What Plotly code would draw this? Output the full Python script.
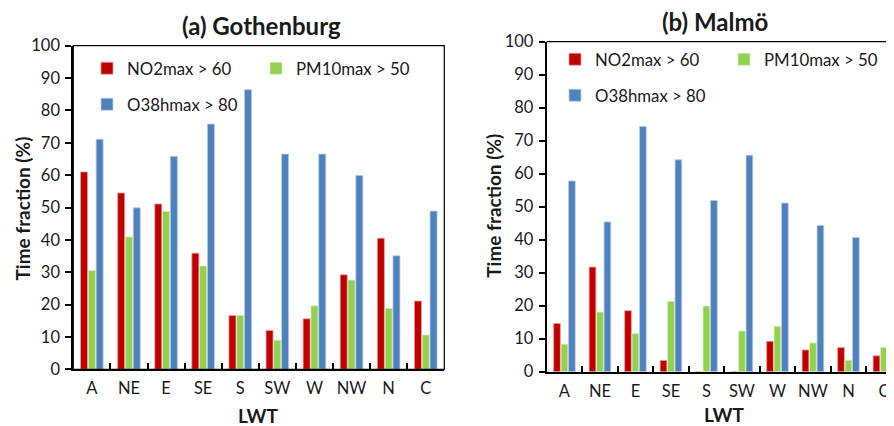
import plotly.graph_objects as go

# ---------------- data ----------------
categories = ["A", "NE", "E", "SE", "S", "SW", "W", "NW", "N", "C"]

gbg_no2 = [61.0, 54.5, 51.1, 35.9, 16.6, 12.0, 15.6, 29.2, 40.5, 21.1]
gbg_pm10 = [30.5, 40.9, 48.8, 31.9, 16.6, 9.0, 19.6, 27.6, 18.8, 10.6]
gbg_o3 = [71.1, 49.9, 65.8, 75.8, 86.4, 66.5, 66.5, 59.9, 35.1, 48.9]

mal_no2 = [14.6, 31.7, 18.5, 3.4, 0.0, 0.0, 9.2, 6.6, 7.3, 4.8]
mal_pm10 = [8.3, 18.1, 11.5, 21.3, 19.9, 12.3, 13.8, 8.7, 3.5, 7.4]
mal_o3 = [57.8, 45.4, 74.3, 64.2, 51.9, 65.6, 51.1, 44.3, 40.7, 67.5]

series_names = ["NO2max > 60", "PM10max > 50", "O38hmax > 80"]
series_colors = ["#C00000", "#92D050", "#4F81BD"]
edge_colors = ["#E8A0A0", "#D4EDB8", "#B8CDE6"]

y_ticks = list(range(0, 101, 10))

# the page body has an 8px margin, so the figure is 8px smaller and
# positions below are given in window pixels, converted to paper fractions
OFF = 8
W, H = 894 - OFF, 426 - OFF
FONT = "Lato"

def px_x(p):
    return (p - OFF) / W

def px_y(p):
    return (H - (p - OFF)) / H

fig = go.Figure()

panels = [
    ("x", "y", [gbg_no2, gbg_pm10, gbg_o3], ["legend", "legend", "legend2"]),
    ("x2", "y2", [mal_no2, mal_pm10, mal_o3], ["legend3", "legend3", "legend4"]),
]
for xa, ya, vals, legs in panels:
    for i in range(3):
        fig.add_trace(go.Bar(
            x=categories, y=vals[i], name=series_names[i],
            marker=dict(color=series_colors[i], line=dict(color=edge_colors[i], width=0.8)),
            xaxis=xa, yaxis=ya, legend=legs[i], showlegend=True,
        ))

tickfont = dict(family=FONT, size=16.5, color="#1a1a1a")
common_x = dict(type="category", tickson="boundaries", ticks="inside", ticklen=6,
                tickwidth=1.5, tickcolor="black", showline=True, linewidth=2,
                linecolor="black", showgrid=False, tickfont=tickfont, zeroline=False,
                tickangle=0, ticklabelstandoff=3, automargin=False)
common_y = dict(range=[0, 100], tickvals=y_ticks, ticks="outside", ticklen=6,
                tickwidth=1.5, tickcolor="black", showline=True, linewidth=2,
                linecolor="black", showgrid=False, tickfont=tickfont, zeroline=False,
                ticklabelstandoff=2, automargin=False)

fig.update_layout(
    width=W, height=H,
    margin=dict(l=0, r=0, t=0, b=0, autoexpand=False),
    paper_bgcolor="white", plot_bgcolor="white",
    barmode="group", bargap=0.37, bargroupgap=0.1,
    font=dict(family=FONT, color="#1a1a1a"),
    xaxis=dict(domain=[px_x(73.3), px_x(444.3)], anchor="y", range=[-0.5, 9.5], **common_x),
    yaxis=dict(domain=[px_y(369.3), px_y(45.7)], anchor="x", **common_y),
    xaxis2=dict(domain=[px_x(546.7), 1.0], anchor="y2", range=[-0.5, 9.283], **common_x),
    yaxis2=dict(domain=[px_y(371.7), px_y(41.7)], anchor="x2", **common_y),
)

leg_common = dict(orientation="h", bgcolor="rgba(0,0,0,0)", borderwidth=0,
                  font=dict(family=FONT, size=16.8, color="#1a1a1a"),
                  xanchor="left", yanchor="middle", entrywidth=124, entrywidthmode="pixels",
                  itemwidth=30)
fig.update_layout(
    legend=dict(x=px_x(87), y=px_y(68.3), **leg_common),
    legend2=dict(x=px_x(87), y=px_y(104.3), **leg_common),
    legend3=dict(x=px_x(555), y=px_y(59.3), **leg_common),
    legend4=dict(x=px_x(555), y=px_y(95.3), **leg_common),
)

# frames (top / right borders)
fig.add_shape(type="rect", xref="x domain", yref="y domain", x0=0, x1=1, y0=0, y1=1,
              line=dict(color="black", width=1.2), layer="above")
fig.add_shape(type="line", xref="x2 domain", yref="y2 domain", x0=0, x1=1, y0=1, y1=1,
              line=dict(color="black", width=1.2), layer="above")

title_font = dict(family=FONT, size=24, color="#1a1a1a")
label_font = dict(family=FONT, size=19, color="#1a1a1a")
anns = [
    dict(text="<b>(a) Gothenburg</b>", x=px_x(261.5), y=px_y(25.7), font=title_font),
    dict(text="<b>(b) Malmö</b>", x=px_x(715), y=px_y(21.7), font=title_font),
    dict(text="<b>Time fraction (%)</b>", x=px_x(22), y=px_y(208.5), textangle=-90, font=label_font),
    dict(text="<b>Time fraction (%)</b>", x=px_x(492.7), y=px_y(206), textangle=-90, font=label_font),
    dict(text="<b>LWT</b>", x=px_x(258.7), y=px_y(415), font=label_font),
    dict(text="<b>LWT</b>", x=px_x(724), y=px_y(414), font=label_font),
]
for a in anns:
    fig.add_annotation(xref="paper", yref="paper", showarrow=False,
                       xanchor="center", yanchor="middle", **a)

fig.write_html("out.html")
